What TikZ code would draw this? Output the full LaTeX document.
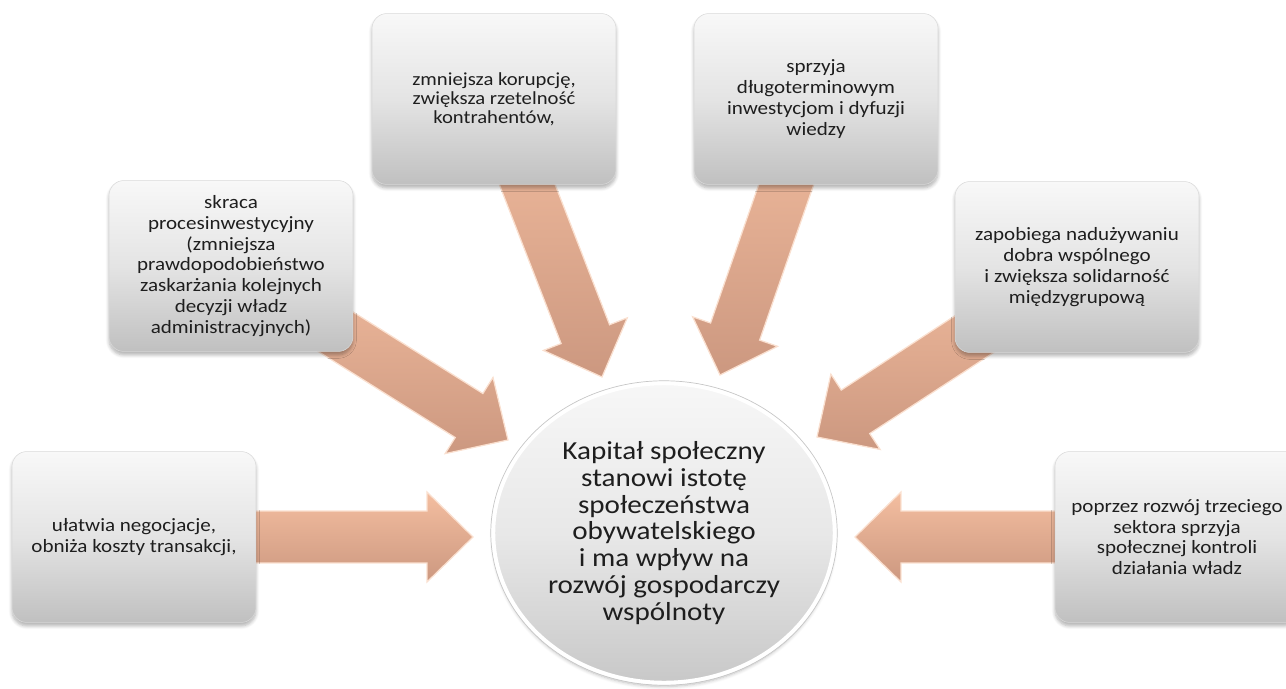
\documentclass[tikz,border=0pt]{standalone}
\usepackage{fontspec}
\setmainfont{Carlito}[FakeStretch=1.12]
\usetikzlibrary{calc,shapes.geometric,shadows.blur}

\definecolor{boxtop}{RGB}{248,248,248}
\definecolor{boxmid}{RGB}{228,228,228}
\definecolor{boxbot}{RGB}{192,192,192}
\definecolor{hubtop}{RGB}{247,247,247}
\definecolor{hubmid}{RGB}{232,232,232}
\definecolor{hubbot}{RGB}{200,200,200}
\definecolor{arrtop}{RGB}{244,190,160}
\definecolor{arrbot}{RGB}{204,152,128}
\definecolor{arredge}{RGB}{250,224,208}
\definecolor{txt}{RGB}{30,30,30}

\tikzset{
  infobox/.style={rectangle, rounded corners=0.3cm, minimum width=4.88cm, minimum height=3.42cm,
    top color=boxtop, bottom color=boxbot, middle color=boxmid, draw=black!15, line width=0.3pt,
    text=txt, align=center, font=\fontsize{10.7}{11.8}\selectfont, inner sep=0pt,
    blur shadow={shadow xshift=0pt, shadow yshift=-0.07cm, shadow blur steps=6, shadow opacity=30}},
  hub/.style={ellipse, minimum width=6.84cm, minimum height=6cm, inner sep=0pt,
    top color=hubtop, bottom color=hubbot, middle color=hubmid, draw=white, line width=2.5pt,
    text=txt, align=center, font=\fontsize{14.8}{15.3}\selectfont,
    blur shadow={shadow xshift=0pt, shadow yshift=-0.07cm, shadow blur steps=6, shadow opacity=25}},
  hubrim/.style={draw=black!22, line width=0.4pt},
  bigarrow/.style={top color=arrtop, bottom color=arrbot, draw=arredge, line width=0.7pt, line join=miter}
}

\newcommand\blockarrow[2]{%
  \path[bigarrow] let \p1=(#1.center), \p2=(#2), \n1={atan2(\y2-\y1,\x2-\x1)} in
    ($(\p1)+({\n1+90}:0.52cm)$)
    -- ($(\p2)+({\n1+180}:0.92cm)+({\n1+90}:0.52cm)$)
    -- ($(\p2)+({\n1+180}:0.92cm)+({\n1+90}:0.9cm)$)
    -- (\p2)
    -- ($(\p2)+({\n1+180}:0.92cm)+({\n1-90}:0.9cm)$)
    -- ($(\p2)+({\n1+180}:0.92cm)+({\n1-90}:0.52cm)$)
    -- ($(\p1)+({\n1-90}:0.52cm)$) -- cycle;}

\begin{document}
\begin{tikzpicture}[x=0.02cm, y=-0.02cm]
\useasboundingbox (0,0) rectangle (1286,689);

\coordinate (p1) at (134,537);
\coordinate (p2) at (231,266);
\coordinate (p3) at (494,99);
\coordinate (p4) at (816,99);
\coordinate (p5) at (1077,267);
\coordinate (p6) at (1177,537);

\coordinate (t1) at (473,537);
\coordinate (t2) at (508,440);
\coordinate (t3) at (602,377);
\coordinate (t4) at (720,375);
\coordinate (t5) at (817,437);
\coordinate (t6) at (855,537);

\blockarrow{p1}{t1}
\blockarrow{p2}{t2}
\blockarrow{p3}{t3}
\blockarrow{p4}{t4}
\blockarrow{p5}{t5}
\blockarrow{p6}{t6}

\node[infobox] (b1) at (p1) {ułatwia negocjacje,\\obniża koszty transakcji,};
\node[infobox] (b2) at (p2) {skraca\\procesinwestycyjny\\(zmniejsza\\prawdopodobieństwo\\zaskarżania kolejnych\\decyzji władz\\administracyjnych)};
\node[infobox, font=\fontsize{10.5}{10.7}\selectfont] (b3) at (p3) {zmniejsza korupcję,\\zwiększa rzetelność\\kontrahentów,};
\node[infobox] (b4) at (p4) {sprzyja\\długoterminowym\\inwestycjom i dyfuzji\\wiedzy};
\node[infobox] (b5) at (p5) {zapobiega nadużywaniu\\dobra wspólnego\\i zwiększa solidarność\\międzygrupową};
\node[infobox] (b6) at (p6) {poprzez rozwój trzeciego\\sektora sprzyja\\społecznej kontroli\\działania władz};

\node[hub] (c) at (664,533) {Kapitał społeczny\\stanowi istotę\\społeczeństwa\\obywatelskiego\\i ma wpływ na\\rozwój gospodarczy\\wspólnoty};
\draw[hubrim] (c.center) ellipse [x radius=3.465cm, y radius=3.045cm];
\end{tikzpicture}
\end{document}
